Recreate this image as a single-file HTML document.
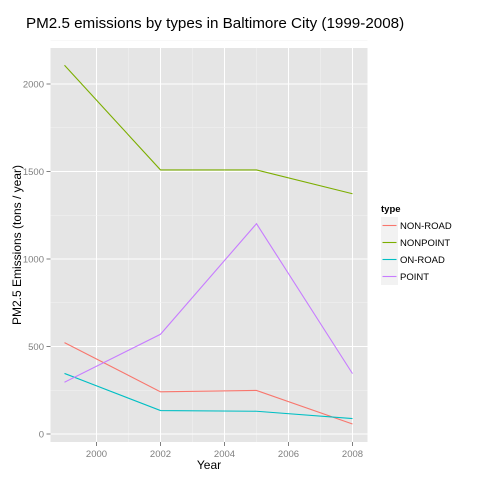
<!DOCTYPE html>
<html><head><meta charset="utf-8"><style>
body{margin:0;background:#fff;}
svg text{font-family:"Liberation Sans",sans-serif;}
</style></head><body>
<svg id="chart" width="480" height="480" xmlns="http://www.w3.org/2000/svg">
<text x="26" y="28" font-size="15.2" fill="#000">PM2.5 emissions by types in Baltimore City (1999-2008)</text>
<rect x="50.5" y="48" width="317" height="394" fill="#e5e5e5"/>
<g id="grid"></g>
<g id="series"></g>
<g id="axes"></g>
<text x="209" y="469" font-size="12" text-anchor="middle">Year</text>
<text transform="translate(21,245) rotate(-90)" font-size="12" text-anchor="middle">PM2.5 Emissions (tons / year)</text>
<g id="legend"></g>
</svg>
<script>
const years=[1999,2002,2005,2008];
const seriesNames=["NON-ROAD","NONPOINT","ON-ROAD","POINT"];
const nonRoad=[522,241,249,57];
const nonPoint=[2107,1509,1509,1373];
const onRoad=[346,134,130,88];
const point=[296,570,1202,345];
const colors=["#f8766d","#7cae00","#00bfc4","#c77cff"];
const xTicks=[2000,2002,2004,2006,2008];
const yTicks=[0,500,1000,1500,2000];
const ns="http://www.w3.org/2000/svg";
const X=v=>96.5+(v-2000)*32;
const Y=v=>434-v*0.175;
function mk(t,a,p){const e=document.createElementNS(ns,t);for(const k in a)e.setAttribute(k,a[k]);p.appendChild(e);return e;}
const grid=document.getElementById('grid'),axes=document.getElementById('axes'),ser=document.getElementById('series'),leg=document.getElementById('legend');
for(let i=0;i<xTicks.length;i++){
  const v=xTicks[i];
  if(i>0){const m=mk('line',{x1:X(v-1),x2:X(v-1),y1:48,y2:442,stroke:'#f2f2f2','stroke-width':0.5},grid);}
  const g=mk('line',{x1:X(v),x2:X(v),y1:48,y2:442,stroke:'#fff','stroke-width':1},grid);
  
  const tk=mk('line',{x1:X(v),x2:X(v),y1:442,y2:446,stroke:'#7f7f7f'},axes);
  
  const t=mk('text',{x:X(v),y:457,'font-size':9.5,fill:'#7f7f7f','text-anchor':'middle'},axes);t.textContent=v;
  
}
for(let i=0;i<yTicks.length;i++){
  const v=yTicks[i];
  const m=mk('line',{x1:50.5,x2:367.5,y1:Y(v+250),y2:Y(v+250),stroke:'#f2f2f2','stroke-width':0.5},grid);
  
  const g=mk('line',{x1:50.5,x2:367.5,y1:Y(v),y2:Y(v),stroke:'#fff','stroke-width':1},grid);
  
  const tk=mk('line',{x1:46.5,x2:50.5,y1:Y(v),y2:Y(v),stroke:'#7f7f7f'},axes);
  
  const t=mk('text',{x:44,y:Y(v)+3.5,'font-size':9.5,fill:'#7f7f7f','text-anchor':'end'},axes);t.textContent=v;
  
}
const data=[nonRoad,nonPoint,onRoad,point];
data.forEach((d,i)=>{
  const p=mk('polyline',{points:d.map((v,j)=>X(years[j])+','+Y(v)).join(' '),fill:'none',stroke:colors[i],'stroke-width':1.1},ser);
  
});
const lt=mk('text',{x:381,y:212,'font-size':9.5,'font-weight':'bold'},leg);lt.textContent='type';

seriesNames.forEach((n,i)=>{
  const cy=225.5+i*17;
  const g=mk('g',{},leg);
  
  mk('rect',{x:381,y:cy-8.5,width:17,height:17,fill:'#f2f2f2'},g);
  mk('line',{x1:382.5,x2:396.5,y1:cy,y2:cy,stroke:colors[i],'stroke-width':1.1},g);
  const t=mk('text',{x:400,y:cy+3.5,'font-size':9.5},g);t.textContent=n;
});
</script>
</body></html>
